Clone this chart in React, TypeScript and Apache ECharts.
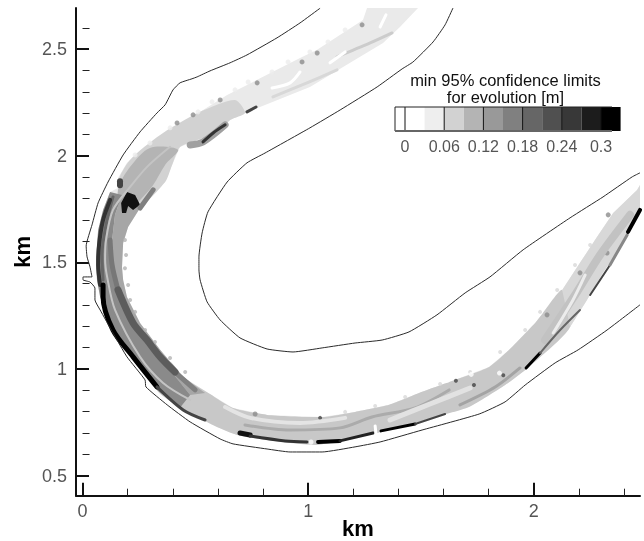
import React, { useEffect, useRef } from "react";
import * as echarts from "echarts";

type Pt = [number, number];

// Bank lines, km
const outerBank: Pt[] = [[1.053,2.692],[.964,2.623],[.862,2.553],[.729,2.473],[.654,2.436],[.565,2.398],[.508,2.370],[.485,2.361],[.432,2.342],[.401,2.309],[.366,2.239],[.330,2.201],[.255,2.112],[.180,2.004],[.113,1.877],[.069,1.779],[.042,1.676],[.016,1.577],[.020,1.526],[.033,1.479],[.042,1.432],[.002,1.432],[.002,1.418],[.033,1.408],[.055,1.380],[.055,1.324],[.078,1.277],[.135,1.169],[.197,1.057],[.277,.949],[.281,.916],[.375,.832],[.477,.752],[.610,.672],[.667,.649],[.818,.625],[.920,.611],[1.062,.611],[1.208,.635],[1.319,.658],[1.505,.714],[1.758,.789],[1.873,.846],[1.962,.925],[2.095,1.029],[2.197,1.090],[2.325,1.183],[2.471,1.301]];
const innerBank: Pt[] = [[1.642,2.693],[1.607,2.614],[1.554,2.534],[1.465,2.440],[1.416,2.407],[1.306,2.323],[1.142,2.215],[1.008,2.131],[.809,2.013],[.729,1.967],[.641,1.877],[.556,1.737],[.530,1.638],[.516,1.526],[.516,1.465],[.521,1.418],[.552,1.315],[.610,1.230],[.698,1.146],[.818,1.094],[.933,1.080],[1.062,1.099],[1.208,1.122],[1.328,1.136],[1.447,1.174],[1.571,1.254],[1.696,1.357],[1.806,1.432],[1.953,1.559],[2.161,1.709],[2.307,1.807],[2.436,1.901],[2.471,1.920]];

// Contour regions, km
const bandEnvelope: Pt[] = [[1.261,2.693],[1.243,2.637],[1.040,2.497],[.964,2.459],[.774,2.356],[.641,2.285],[.463,2.168],[.330,2.074],[.286,2.037],[.197,1.967],[.157,1.896],[.166,1.854],[.122,1.830],[.091,1.746],[.069,1.652],[.060,1.512],[.064,1.418],[.078,1.338],[.122,1.216],[.224,1.043],[.330,.902],[.477,.794],[.596,.728],[.685,.691],[.818,.667],[1.031,.644],[1.208,.677],[1.359,.714],[1.563,.775],[1.713,.822],[1.873,.925],[1.979,1.010],[2.161,1.197],[2.236,1.324],[2.307,1.451],[2.396,1.591],[2.471,1.732],[2.471,1.863],[2.458,1.840],[2.352,1.732],[2.281,1.620],[2.205,1.498],[2.126,1.371],[2.041,1.263],[2.006,1.216],[1.891,1.090],[1.802,1.010],[1.625,.939],[1.505,.893],[1.359,.832],[1.208,.799],[1.062,.775],[.818,.785],[.667,.817],[.565,.883],[.446,.963],[.344,1.090],[.255,1.216],[.197,1.338],[.180,1.418],[.175,1.479],[.180,1.591],[.202,1.666],[.255,1.755],[.313,1.826],[.366,1.877],[.397,1.957],[.432,2.041],[.508,2.074],[.530,2.060],[.596,2.107],[.654,2.168],[.720,2.201],[.831,2.248],[1.008,2.323],[1.186,2.436],[1.332,2.529],[1.407,2.604],[1.487,2.693]];
const bottomRegion: Pt[] = [[.388,1.033],[.446,.963],[.565,.883],[.667,.817],[.818,.785],[1.062,.775],[1.208,.799],[1.359,.832],[1.505,.893],[1.625,.939],[1.802,1.010],[1.891,1.090],[2.006,1.216],[2.041,1.263],[2.126,1.371],[2.161,1.197],[1.979,1.010],[1.873,.925],[1.713,.822],[1.563,.775],[1.359,.714],[1.208,.677],[1.031,.644],[.818,.667],[.685,.691],[.596,.728],[.477,.794],[.330,.902]];
const rightRegion: Pt[] = [[2.126,1.371],[2.205,1.498],[2.281,1.620],[2.352,1.732],[2.458,1.840],[2.471,1.863],[2.471,1.732],[2.396,1.591],[2.307,1.451],[2.236,1.324],[2.161,1.197]];
const upperRegion: Pt[] = [[.676,2.262],[.521,2.206],[.344,2.098],[.211,1.981],[.157,1.863],[.255,1.770],[.366,1.877],[.397,1.957],[.432,2.041],[.508,2.074],[.596,2.107],[.654,2.168],[.720,2.201]];
const midRegion: Pt[] = [[.299,2.037],[.211,1.948],[.157,1.840],[.175,1.723],[.255,1.793],[.313,1.863],[.366,1.957],[.423,2.028]];
const leftInnerRegion: Pt[] = [[.175,1.816],[.144,1.723],[.131,1.605],[.135,1.465],[.157,1.347],[.219,1.230],[.299,1.113],[.388,.996],[.477,.878],[.543,.888],[.446,.963],[.344,1.090],[.255,1.216],[.197,1.338],[.180,1.418],[.175,1.479],[.180,1.591],[.202,1.666],[.255,1.755]];
const leftRegion: Pt[] = [[.122,1.830],[.091,1.746],[.069,1.652],[.060,1.512],[.064,1.418],[.078,1.338],[.122,1.216],[.224,1.043],[.330,.902],[.432,.818],[.477,.878],[.388,.996],[.299,1.113],[.219,1.230],[.157,1.347],[.135,1.465],[.131,1.605],[.144,1.723],[.175,1.816]];
const blackBlotch: Pt[] = [[.175,1.732],[.171,1.779],[.197,1.830],[.233,1.816],[.255,1.770],[.224,1.746],[.202,1.765],[.193,1.732]];

// Contour streaks, km
const outerBlackStrip: Pt[] = [[.091,1.394],[.091,1.338],[.135,1.183],[.224,1.057],[.330,.916]];
const outerTaper: Pt[] = [[.330,.916],[.446,.808],[.543,.761]];
const outerDarkUpper: Pt[] = [[.122,1.793],[.091,1.699],[.073,1.582],[.069,1.488],[.078,1.394]];
const outerMedium: Pt[] = [[.135,1.807],[.104,1.676],[.086,1.535],[.091,1.418]];
const innerDarkBand: Pt[] = [[.157,1.371],[.224,1.216],[.286,1.136],[.344,1.057],[.410,.986]];
const innerTaperTop: Pt[] = [[.122,1.605],[.131,1.488],[.157,1.371]];
const innerTaperLow: Pt[] = [[.410,.986],[.499,.902]];
const lightStreak: Pt[] = [[.388,2.042],[.286,1.948],[.211,1.854],[.135,1.746],[.104,1.605],[.100,1.512],[.109,1.432],[.144,1.277],[.255,1.057],[.357,.935],[.477,.855]];
const blotchNotch: Pt[] = [[.166,1.880],[.166,1.862]];
const blotchGray: Pt[] = [[.255,1.755],[.313,1.840]];
const upperBlobHalo: Pt[] = [[.477,2.051],[.534,2.065],[.632,2.145]];
const upperBlob: Pt[] = [[.534,2.065],[.579,2.107],[.632,2.145]];
const upperBlob2: Pt[] = [[.729,2.206],[.769,2.229]];
const bottomBlob: Pt[] = [[.698,.700],[.743,.691]];
const bottomStrip1: Pt[] = [[.743,.686],[.898,.663],[.995,.658]];
const bottomStrip2: Pt[] = [[1.044,.658],[1.141,.663]];
const bottomStrip3: Pt[] = [[1.141,.663],[1.288,.700]];
const bottomStrip4: Pt[] = [[1.323,.710],[1.474,.742]];
const bottomStrip5: Pt[] = [[1.474,.742],[1.607,.789]];
const bottomNotch: Pt[] = [[1.297,.733],[1.301,.691]];
const bottomGray: Pt[] = [[.720,.738],[.920,.714],[1.142,.724],[1.283,.775],[1.474,.818],[1.625,.902]];
const bottomLight1: Pt[] = [[.632,.822],[.743,.771],[.964,.747],[1.164,.771]];
const bottomLight2: Pt[] = [[1.363,.761],[1.540,.836],[1.718,.911]];
const lowerRightGray: Pt[] = [[1.673,.832],[1.829,.916],[1.939,1.005]];
const rightBlack: Pt[] = [[1.966,1.005],[2.028,1.075]];
const rightEdge1: Pt[] = [[2.028,1.075],[2.117,1.183],[2.205,1.277]];
const rightEdge2: Pt[] = [[2.250,1.347],[2.338,1.488]];
const rightEdge3: Pt[] = [[2.338,1.488],[2.414,1.629]];
const rightBlack2: Pt[] = [[2.418,1.643],[2.471,1.746]];
const rightBand: Pt[] = [[2.050,1.136],[2.183,1.347],[2.294,1.535],[2.427,1.723]];
const rightLight: Pt[] = [[2.086,1.169],[2.174,1.324],[2.228,1.441]];
const whitePatch1: Pt[] = [[.840,2.318],[.920,2.342],[.964,2.393]];
const whitePatch2: Pt[] = [[1.319,2.604],[1.345,2.661]];
const whitePatch3: Pt[] = [[1.097,2.436],[1.164,2.487]];
const upperEdgeGray1: Pt[] = [[.844,2.276],[.995,2.342],[1.128,2.403]];
const upperEdgeGray2: Pt[] = [[1.128,2.464],[1.275,2.529],[1.372,2.576]];

// Small isolated contours, km
const graySpots: Pt[] = [[.774,2.342],[.610,2.262],[1.040,2.482],[.973,2.440],[.490,2.192],[.419,2.154],[1.239,2.614],[2.330,1.723],[2.325,1.544],[2.059,1.254],[2.205,1.451],[.765,.789]];
const darkSpots: Pt[] = [[1.053,.771],[1.735,.925],[1.865,.971],[1.655,.945]];
const whiteSpots: Pt[] = [[1.013,.658],[1.618,.948],[1.723,.975],[1.848,.981]];
const upperFringe: Pt[] = [[1.164,2.590],[1.088,2.534],[1.008,2.487],[.911,2.440],[.840,2.393],[.734,2.346],[.676,2.309],[.574,2.253],[.512,2.206],[.388,2.131],[.299,2.060],[.233,2.004]];
const leftFringe: Pt[] = [[.188,1.605],[.193,1.535],[.188,1.473],[.202,1.394],[.211,1.324],[.233,1.268],[.277,1.183],[.321,1.127],[.388,1.052],[.455,.986]];
const rightFringe: Pt[] = [[2.250,1.582],[2.183,1.488],[2.104,1.371],[2.028,1.268],[1.962,1.183],[1.851,1.080],[1.718,.986],[1.585,.930],[1.430,.869],[1.297,.827],[1.164,.799]];

// Legend and axis values
const legendGrays = ["#ffffff","#ffffff","#eeeeee","#d2d2d2","#b4b4b4","#999999","#808080","#666666","#505050","#383838","#1c1c1c","#000000"];
const legendLabels = ["0","0.06","0.12","0.18","0.24","0.3"];
const legendTitle = ["min 95% confidence limits","for evolution [m]"];
const xMajor = [0,1,2];
const xMinor = [.2,.4,.6,.8,1.2,1.4,1.6,1.8,2.2,2.4];
const yMajor = [.5,1,1.5,2,2.5];
const yMinor = [.6,.7,.8,.9,1.1,1.2,1.3,1.4,1.6,1.7,1.8,1.9,2.1,2.2,2.3,2.4,2.6];

const regions: { pts: Pt[]; fill: string; smooth: number }[] = [
  { pts: bandEnvelope, fill: "#eaeaea", smooth: 0 },
  { pts: bottomRegion, fill: "#c8c8c8", smooth: 0.2 },
  { pts: rightRegion, fill: "#d8d8d8", smooth: 0 },
  { pts: upperRegion, fill: "#d2d2d2", smooth: 0.25 },
  { pts: midRegion, fill: "#b4b4b4", smooth: 0.3 },
  { pts: leftInnerRegion, fill: "#a6a6a6", smooth: 0 },
  { pts: leftRegion, fill: "#8a8a8a", smooth: 0 },
];
const strokes: { pts: Pt[]; color: string; width: number }[] = [
  { pts: rightBand, color: "#c2c2c2", width: 8 },
  { pts: bottomGray, color: "#ababab", width: 3 },
  { pts: bottomLight1, color: "#e4e4e4", width: 4 },
  { pts: bottomLight2, color: "#e2e2e2", width: 5 },
  { pts: lowerRightGray, color: "#a4a4a4", width: 3 },
  { pts: rightLight, color: "#ececec", width: 3 },
  { pts: upperEdgeGray1, color: "#d8d8d8", width: 3 },
  { pts: upperEdgeGray2, color: "#cccccc", width: 3 },
  { pts: whitePatch1, color: "#ffffff", width: 3 },
  { pts: whitePatch2, color: "#ffffff", width: 3 },
  { pts: whitePatch3, color: "#ffffff", width: 3 },
  { pts: innerTaperTop, color: "#777777", width: 5 },
  { pts: innerTaperLow, color: "#808080", width: 5 },
  { pts: innerDarkBand, color: "#5c5c5c", width: 7 },
  { pts: outerMedium, color: "#666666", width: 3 },
  { pts: outerDarkUpper, color: "#333333", width: 4 },
  { pts: outerBlackStrip, color: "#000000", width: 5 },
  { pts: outerTaper, color: "#444444", width: 3 },
  { pts: lightStreak, color: "#c4c4c4", width: 2 },
  { pts: blotchGray, color: "#808080", width: 5 },
  { pts: blotchNotch, color: "#444444", width: 6 },
  { pts: upperBlobHalo, color: "#a0a0a0", width: 7 },
  { pts: upperBlob, color: "#333333", width: 3 },
  { pts: upperBlob2, color: "#444444", width: 3 },
  { pts: bottomBlob, color: "#111111", width: 5 },
  { pts: bottomStrip1, color: "#333333", width: 3 },
  { pts: bottomStrip2, color: "#000000", width: 4 },
  { pts: bottomStrip3, color: "#222222", width: 3 },
  { pts: bottomStrip4, color: "#000000", width: 3 },
  { pts: bottomStrip5, color: "#444444", width: 2 },
  { pts: bottomNotch, color: "#ffffff", width: 3 },
  { pts: rightBlack, color: "#000000", width: 3 },
  { pts: rightEdge1, color: "#666666", width: 2 },
  { pts: rightEdge2, color: "#444444", width: 2 },
  { pts: rightEdge3, color: "#888888", width: 3 },
  { pts: rightBlack2, color: "#000000", width: 4 },
];

const tickFont = { fontFamily: "Liberation Sans", fontSize: 18, color: "#555555" };
const nameFont = { fontFamily: "Liberation Sans", fontSize: 22, fontWeight: "bold" as const, color: "#000000" };

function buildLegend() {
  const x0 = 395, top = 107, bottom = 131, first = 10, step = 19.6;
  const els: any[] = [];
  legendGrays.forEach((c, i) => {
    const x = i === 0 ? x0 : x0 + first + (i - 1) * step;
    const w = i === 0 ? first : step;
    els.push({ type: "rect", shape: { x, y: top, width: w, height: bottom - top }, style: { fill: c } });
  });
  for (let i = 0; i < legendLabels.length; i++) {
    const x = x0 + first + i * 2 * step;
    els.push({ type: "line", shape: { x1: x, y1: top, x2: x, y2: bottom }, style: { stroke: "#111", lineWidth: 1 } });
    els.push({ type: "text", x, y: 146, style: { text: legendLabels[i], fontFamily: "Liberation Sans", fontSize: 16, fill: "#555", textAlign: "center", textVerticalAlign: "middle" } });
  }
  els.push({ type: "line", shape: { x1: x0, y1: top, x2: 612, y2: top }, style: { stroke: "#222", lineWidth: 1 } });
  els.push({ type: "line", shape: { x1: x0, y1: top, x2: x0, y2: bottom }, style: { stroke: "#222", lineWidth: 1 } });
  els.push({ type: "line", shape: { x1: x0, y1: bottom, x2: 612, y2: bottom }, style: { stroke: "#666", lineWidth: 2 } });
  els.push({ type: "text", x: 505.5, y: 88, style: { text: legendTitle.join("\n"), fontFamily: "Liberation Sans", fontSize: 16.5, lineHeight: 17, fill: "#111", textAlign: "center", textVerticalAlign: "middle" } });
  return els;
}

export default function App() {
  const ref = useRef<HTMLDivElement>(null);
  useEffect(() => {
    const chart = echarts.init(ref.current!, undefined, { renderer: "svg" });
    const xRange = { min: -0.029, max: 2.471 };
    const yRange = { min: 0.406, max: 2.693 };
    const axisLine = { show: true, onZero: false, lineStyle: { color: "#111", width: 2 } };
    const region = (pts: Pt[], fill: string, smooth: number) => ({
      type: "custom",
      coordinateSystem: "cartesian2d",
      clip: true,
      silent: true,
      data: [0],
      renderItem: (_: any, api: any) => ({
        type: "polygon",
        shape: { points: pts.map((p) => api.coord(p)), smooth },
        style: { fill },
      }),
    });
    const strokeSeries = strokes.map((s) => ({
      type: "line",
      data: s.pts,
      showSymbol: false,
      symbol: "none",
      silent: true,
      smooth: 0.3,
      lineStyle: { color: s.color, width: s.width, cap: "round", join: "round" },
    }));
    const spot = (pts: Pt[], color: string, size: number) => ({
      type: "scatter",
      data: pts,
      symbolSize: size,
      silent: true,
      itemStyle: { color },
    });
    const bank = (pts: Pt[]) => ({
      type: "line",
      data: pts,
      symbol: "none",
      showSymbol: false,
      silent: true,
      smooth: 0.15,
      lineStyle: { color: "#2a2a2a", width: 1 },
    });
    chart.setOption({
      animation: false,
      backgroundColor: "#ffffff",
      grid: { left: 76, right: 4, top: 8, bottom: 45.3, outerBoundsMode: "none" },
      xAxis: [
        {
          type: "value", ...xRange, position: "bottom",
          name: "km", nameLocation: "middle", nameGap: 22, nameMoveOverlap: false, nameTextStyle: nameFont,
          axisLine, splitLine: { show: false },
          axisTick: { show: true, inside: true, length: 13, customValues: xMajor, lineStyle: { color: "#111", width: 2 } },
          axisLabel: { ...tickFont, margin: 6, customValues: xMajor, formatter: (v: number) => String(v) },
        },
        {
          type: "value", ...xRange, position: "bottom",
          axisLine: { show: false }, splitLine: { show: false },
          axisTick: { show: true, inside: true, length: 7, customValues: xMinor, lineStyle: { color: "#222", width: 1 } },
          axisLabel: { show: false },
        },
      ],
      yAxis: [
        {
          type: "value", ...yRange, position: "left",
          name: "km", nameLocation: "middle", nameGap: 43, nameMoveOverlap: false, nameTextStyle: nameFont,
          axisLine, splitLine: { show: false },
          axisTick: { show: true, inside: true, length: 13, customValues: yMajor, lineStyle: { color: "#111", width: 2 } },
          axisLabel: { ...tickFont, margin: 9, customValues: yMajor, formatter: (v: number) => String(v) },
        },
        {
          type: "value", ...yRange, position: "left",
          axisLine: { show: false }, splitLine: { show: false },
          axisTick: { show: true, inside: true, length: 7, customValues: yMinor, lineStyle: { color: "#222", width: 1 } },
          axisLabel: { show: false },
        },
      ],
      series: [
        ...regions.map((r) => region(r.pts, r.fill, r.smooth)),
        spot(upperFringe, "#ececec", 5),
        spot(leftFringe, "#b4b4b4", 4),
        spot(rightFringe, "#d8d8d8", 4),
        ...strokeSeries,
        region(blackBlotch, "#111111", 0),
        spot(graySpots, "#8c8c8c", 5),
        spot(darkSpots, "#444444", 4),
        spot(whiteSpots, "#ffffff", 5),
        bank(outerBank),
        bank(innerBank),
      ],
      graphic: { elements: buildLegend() },
    });
    return () => chart.dispose();
  }, []);
  return <div ref={ref} style={{ position: "fixed", left: 0, top: 0, width: 644, height: 541, filter: "blur(0.5px)" }} />;
}
